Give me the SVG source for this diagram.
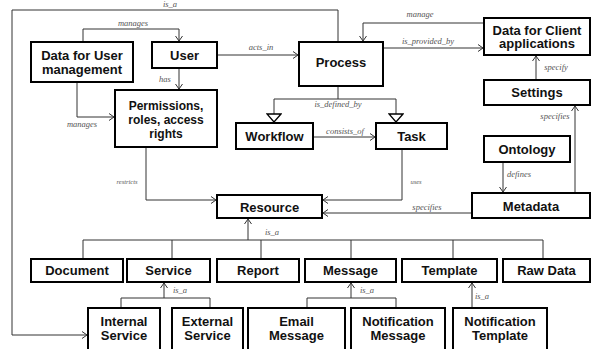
<svg xmlns="http://www.w3.org/2000/svg" width="593" height="349" viewBox="0 0 593 349">
  <style>
    .box { fill: #fff; stroke: #000; stroke-width: 2; }
    .t { font-family: "Liberation Sans", Arial, sans-serif; font-size: 13px; font-weight: bold; fill: #111; text-anchor: middle; }
    .t3 { font-size: 12px; }
    .lbl { font-family: "Liberation Serif", "Times New Roman", serif; font-style: italic; font-size: 8.5px; fill: #555; text-anchor: middle; }
    .sm { font-size: 6.5px; }
    .c { fill: none; stroke: #333; stroke-width: 1; }
  </style>
  <defs>
    <marker id="open" markerUnits="userSpaceOnUse" markerWidth="8" markerHeight="10" refX="6" refY="4.5" orient="auto">
      <path d="M1,1 L6,4.5 L1,8" fill="none" stroke="#333" stroke-width="1"/>
    </marker>
    <marker id="tri" markerUnits="userSpaceOnUse" markerWidth="16" markerHeight="16" refX="9" refY="7.5" orient="auto">
      <path d="M1,0.5 L9,7.5 L1,14.5 Z" fill="#fff" stroke="#000" stroke-width="1.3"/>
    </marker>
  </defs>

  <!-- connectors -->
  <g id="connectors">
    <path class="c" d="M338,42 V10 H12 V335 H87" marker-end="url(#open)"/>
    <path class="c" d="M83,42 V29 H179 V41" marker-end="url(#open)"/>
    <path class="c" d="M217,55 H298" marker-end="url(#open)"/>
    <path class="c" d="M179,68 V89" marker-end="url(#open)"/>
    <path class="c" d="M77,82 V117 H114" marker-end="url(#open)"/>
    <path class="c" d="M146,147 V200 H216" marker-end="url(#open)"/>
    <path class="c" d="M484,23 H363 V41" marker-end="url(#open)"/>
    <path class="c" d="M383,48 H483" marker-end="url(#open)"/>
    <path class="c" d="M536,80 V56" marker-end="url(#open)"/>
    <path class="c" d="M575,193 V106" marker-end="url(#open)"/>
    <path class="c" d="M338,86 V99 M274,99 H396"/>
    <path class="c" d="M274,99 V122" marker-end="url(#tri)"/>
    <path class="c" d="M396,99 V122" marker-end="url(#tri)"/>
    <path class="c" d="M313,137 H375" marker-end="url(#open)"/>
    <path class="c" d="M402,149 V200 H323" marker-end="url(#open)"/>
    <path class="c" d="M503,162 V192" marker-end="url(#open)"/>
    <path class="c" d="M472,213 H323" marker-end="url(#open)"/>
    <!-- Resource generalisation tree -->
    <path class="c" d="M248,240 V219" marker-end="url(#open)"/>
    <path class="c" d="M83,259 V240 H543 V259 M172,240 V259 M261,240 V259 M351,240 V259 M453,240 V259"/>
    <!-- Service generalisation -->
    <path class="c" d="M164,298 V283" marker-end="url(#open)"/>
    <path class="c" d="M121,308 V298 H210 V308"/>
    <!-- Message generalisation -->
    <path class="c" d="M351,298 V283" marker-end="url(#open)"/>
    <path class="c" d="M307,308 V298 H396 V308"/>
    <!-- Template generalisation -->
    <path class="c" d="M472,308 V283" marker-end="url(#open)"/>

    <text class="lbl" x="170" y="7">is_a</text>
    <text class="lbl" x="133" y="26">manages</text>
    <text class="lbl" x="261" y="50">acts_in</text>
    <text class="lbl" x="165" y="82">has</text>
    <text class="lbl" x="82" y="127">manages</text>
    <text class="lbl sm" x="127" y="184">restricts</text>
    <text class="lbl" x="420" y="17">manage</text>
    <text class="lbl" x="428" y="44">is_provided_by</text>
    <text class="lbl" x="556" y="70">specify</text>
    <text class="lbl" x="555" y="119">specifies</text>
    <text class="lbl" x="338" y="107">is_defined_by</text>
    <text class="lbl" x="345" y="134">consists_of</text>
    <text class="lbl sm" x="416" y="184">uses</text>
    <text class="lbl" x="519" y="177">defines</text>
    <text class="lbl" x="427" y="210">specifies</text>
    <text class="lbl" x="272" y="235">is_a</text>
    <text class="lbl" x="180" y="293">is_a</text>
    <text class="lbl" x="367" y="293">is_a</text>
    <text class="lbl" x="482" y="299">is_a</text>
  </g>

  <!-- nodes -->
  <g id="data-user-mgmt"><rect class="box" x="31" y="42" width="102" height="40"/><text class="t" x="82" y="60">Data for User</text><text class="t" x="82" y="74">management</text></g>
  <g id="user"><rect class="box" x="152" y="42" width="65" height="26"/><text class="t" x="184.5" y="59.5">User</text></g>
  <g id="permissions"><rect class="box" x="115" y="90" width="102" height="57"/><text class="t t3" x="166" y="110">Permissions,</text><text class="t t3" x="166" y="124">roles, access</text><text class="t t3" x="166" y="138">rights</text></g>
  <g id="process"><rect class="box" x="299" y="42" width="84" height="44"/><text class="t" x="341" y="67">Process</text></g>
  <g id="data-client"><rect class="box" x="484" y="18" width="106" height="37"/><text class="t" x="537" y="34.5">Data for Client</text><text class="t" x="537" y="48">applications</text></g>
  <g id="settings"><rect class="box" x="484" y="80" width="106" height="25"/><text class="t" x="537" y="97">Settings</text></g>
  <g id="workflow"><rect class="box" x="236" y="123" width="77" height="26"/><text class="t" x="274.5" y="141">Workflow</text></g>
  <g id="task"><rect class="box" x="376" y="123" width="71" height="26"/><text class="t" x="411.5" y="141">Task</text></g>
  <g id="ontology"><rect class="box" x="484" y="136" width="86" height="26"/><text class="t" x="527" y="154">Ontology</text></g>
  <g id="metadata"><rect class="box" x="472" y="193" width="118" height="25"/><text class="t" x="531" y="210.5">Metadata</text></g>
  <g id="resource"><rect class="box" x="217" y="195" width="105" height="23"/><text class="t" x="269.5" y="211.5">Resource</text></g>

  <g id="document"><rect class="box" x="31" y="259" width="92" height="23"/><text class="t" x="77" y="275">Document</text></g>
  <g id="service"><rect class="box" x="127" y="259" width="83" height="23"/><text class="t" x="168.5" y="275">Service</text></g>
  <g id="report"><rect class="box" x="217" y="259" width="82" height="23"/><text class="t" x="258" y="275">Report</text></g>
  <g id="message"><rect class="box" x="305" y="259" width="91" height="23"/><text class="t" x="350.5" y="275">Message</text></g>
  <g id="template"><rect class="box" x="402" y="259" width="95" height="23"/><text class="t" x="449.5" y="275">Template</text></g>
  <g id="raw-data"><rect class="box" x="503" y="259" width="87" height="23"/><text class="t" x="546.5" y="275">Raw Data</text></g>

  <g id="internal-service"><rect class="box" x="88" y="308" width="72" height="50"/><text class="t" x="124" y="326">Internal</text><text class="t" x="124" y="340">Service</text></g>
  <g id="external-service"><rect class="box" x="172" y="308" width="71" height="50"/><text class="t" x="207.5" y="326">External</text><text class="t" x="207.5" y="340">Service</text></g>
  <g id="email-message"><rect class="box" x="248" y="308" width="97" height="50"/><text class="t" x="296.5" y="326">Email</text><text class="t" x="296.5" y="340">Message</text></g>
  <g id="notification-message"><rect class="box" x="351" y="308" width="94" height="50"/><text class="t" x="398" y="326">Notification</text><text class="t" x="398" y="340">Message</text></g>
  <g id="notification-template"><rect class="box" x="453" y="308" width="94" height="50"/><text class="t" x="500" y="326">Notification</text><text class="t" x="500" y="340">Template</text></g>
</svg>
